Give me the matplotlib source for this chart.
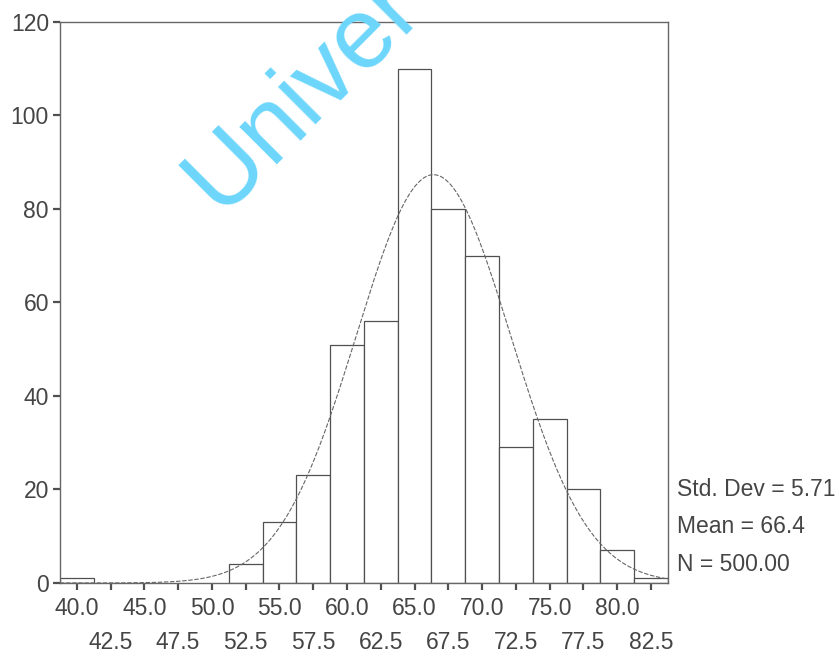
import numpy as np
import matplotlib
matplotlib.use('Agg')
import matplotlib.pyplot as plt

plt.rcParams['font.family'] = ['Liberation Sans', 'DejaVu Sans']

# histogram bins (centers) and counts
bin_centers = [40.0, 42.5, 45.0, 47.5, 50.0, 52.5, 55.0, 57.5, 60.0, 62.5,
               65.0, 67.5, 70.0, 72.5, 75.0, 77.5, 80.0, 82.5]
counts = [1, 0, 0, 0, 0, 4, 13, 23, 51, 56, 110, 80, 70, 29, 35, 20, 7, 1]
bin_width = 2.5

std_dev = 5.71
mean = 66.4
n_total = 500

ticks_top = [40.0, 45.0, 50.0, 55.0, 60.0, 65.0, 70.0, 75.0, 80.0]
ticks_bottom = [42.5, 47.5, 52.5, 57.5, 62.5, 67.5, 72.5, 77.5, 82.5]

fig = plt.figure(figsize=(8.39, 6.6), dpi=100)
ax = fig.add_axes([0.0715, 0.1167, 0.7245, 0.85])

edge = '#505050'
text_col = '#454545'

for c, h in zip(bin_centers, counts):
    if h > 0:
        ax.bar(c, h, width=bin_width, color='white', edgecolor=edge, linewidth=0.9)

# fitted normal curve
xs = np.linspace(38.75, 83.75, 400)
ys = n_total * bin_width / (std_dev * np.sqrt(2 * np.pi)) * np.exp(-0.5 * ((xs - mean) / std_dev) ** 2)
ax.plot(xs, ys, color='#666666', linewidth=0.8, linestyle=(0, (4, 1.5)))

ax.set_xlim(38.75, 83.75)
ax.set_ylim(0, 120)
ax.set_yticks([0, 20, 40, 60, 80, 100, 120])
ax.set_xticks(ticks_top)
ax.set_xticklabels([f'{v:.1f}' for v in ticks_top])
ax.set_xticks(ticks_bottom, minor=True)
ax.set_xticklabels([f'{v:.1f}' for v in ticks_bottom], minor=True)

ax.tick_params(axis='both', which='both', direction='out', length=5, width=1.6, colors=edge,
               labelsize=16.5, labelcolor=text_col)
ax.tick_params(axis='x', which='major', pad=5)
ax.tick_params(axis='x', which='minor', pad=29.5)
ax.tick_params(axis='y', pad=3)
for sp in ax.spines.values():
    sp.set_color('#666666')
    sp.set_linewidth(1.0)

# statistics box
fig.text(0.807, 0.258, f'Std. Dev = {std_dev:.2f}', fontsize=16.5, color=text_col, va='center')
fig.text(0.807, 0.203, f'Mean = {mean:.1f}', fontsize=16.5, color=text_col, va='center')
fig.text(0.807, 0.145, f'N = {n_total:.2f}', fontsize=16.5, color=text_col, va='center')

# watermark
fig.text(0.262, 0.675, 'Univer', fontsize=72, color='#6dd6fb', rotation=45,
         rotation_mode='anchor', ha='left', va='baseline')

fig.savefig('out.png', dpi=100)
